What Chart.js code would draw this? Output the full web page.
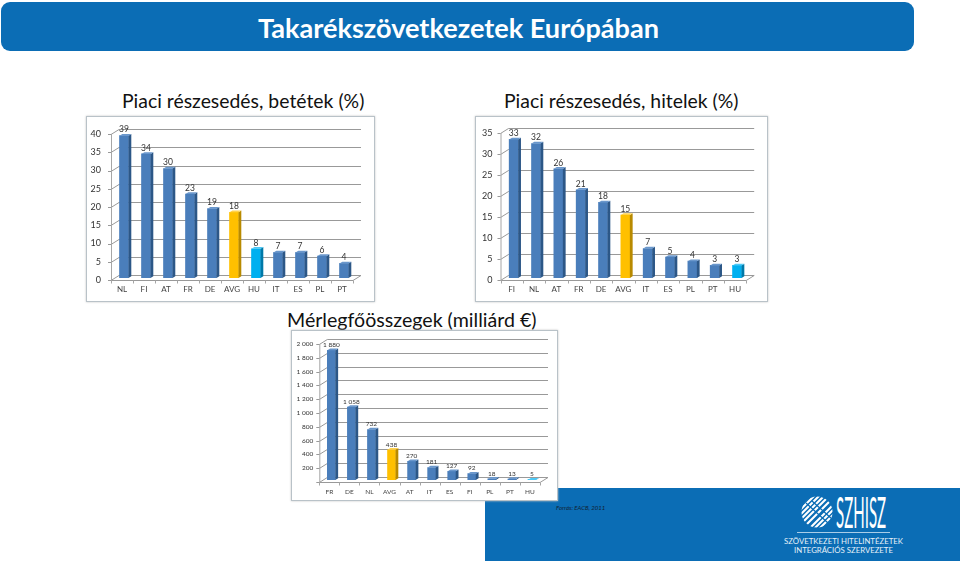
<!DOCTYPE html>
<html lang="hu"><head><meta charset="utf-8">
<script src="https://cdn.jsdelivr.net/npm/chart.js@4"></script>
<style>
html,body{margin:0;padding:0;background:#fff;width:960px;height:561px;overflow:hidden;font-family:Lato,"Open Sans",sans-serif}
.a{position:absolute;white-space:nowrap}
#head{left:1px;top:2px;width:913px;height:49px;background:#0b6db5;border-radius:9px}
#foot{left:485px;top:488px;width:475px;height:73px;background:#0b6db5}
.box{position:absolute;background:#fff;border:1px solid #b9c2c8;box-shadow:0 0 2px #c4c4c4;box-sizing:border-box}
.box canvas{position:absolute;left:-1px;top:-1px}
</style></head><body>
<div class="a" id="head"></div>
<div class="a" style="left:258px;top:11px;font-size:27.1px;font-weight:700;color:#fff">Takarékszövetkezetek Európában</div>
<div class="a" style="left:122px;top:89px;font-size:19.4px;color:#111">Piaci részesedés, betétek (%)</div>
<div class="a" style="left:504px;top:89px;font-size:19.4px;color:#111">Piaci részesedés, hitelek (%)</div>
<div class="a" style="left:287px;top:308px;font-size:19.6px;color:#111">Mérlegfőösszegek (milliárd €)</div>
<div class="a" id="foot"></div>
<div class="box" style="left:86px;top:116px;width:289px;height:186px"><canvas id="c1"></canvas></div>
<div class="box" style="left:475px;top:116px;width:293px;height:186px"><canvas id="c2"></canvas></div>
<div class="box" style="left:291px;top:330px;width:267px;height:171px"><canvas id="c3"></canvas></div>
<div class="a" style="left:556px;top:504px;font-size:6px;font-style:italic;color:#123">Forrás: EACB, 2011</div>
<svg class="a" style="left:800px;top:495px" width="36" height="36" viewBox="0 0 36 36">
<defs><clipPath id="cp"><circle cx="17" cy="17" r="15.5"/></clipPath></defs>
<g clip-path="url(#cp)" stroke="#fff" stroke-width="2.1">
<path d="M-2 12L12 -2M-2 17L17 -2M-2 22L22 -2M-2 27L27 -2M-2 32L32 -2M2 34L36 0M7 36L36 7M12 36L36 12M17 36L36 17M22 36L36 22"/>
</g>
<g clip-path="url(#cp)" stroke="#0b6db5" stroke-width="1.3"><path d="M6 8L28 28M12 6L32 24"/></g>
</svg>
<div class="a" style="left:836px;top:486px;font-size:32px;color:#fff;transform-origin:0 0;transform:scale(.47,1.32);font-weight:400">SZHISZ</div>
<div class="a" style="left:797px;top:532px;width:93px;height:1px;background:#a9cde8"></div>
<div class="a" style="left:774px;top:537px;width:139px;text-align:center;font-size:7.8px;line-height:8.5px;color:#e6f1f9">SZÖVETKEZETI HITELINTÉZETEK<br>INTEGRÁCIÓS SZERVEZETE</div>
<script>
const depositCategories=["NL","FI","AT","FR","DE","AVG","HU","IT","ES","PL","PT"];
const depositValues=[39,34,30,23,19,18,8,7,7,6,4];
const depositTicks=[0,5,10,15,20,25,30,35,40];
const loanCategories=["FI","NL","AT","FR","DE","AVG","IT","ES","PL","PT","HU"];
const loanValues=[33,32,26,21,18,15,7,5,4,3,3];
const loanTicks=[0,5,10,15,20,25,30,35];
const assetCategories=["FR","DE","NL","AVG","AT","IT","ES","FI","PL","PT","HU"];
const assetValues=[1880,1058,732,438,270,181,127,92,18,13,5];
const assetTicks=[0,200,400,600,800,1000,1200,1400,1600,1800,2000];
const FONT='Lato, "Open Sans", sans-serif';
const colorSets={normal:["#4a7ebb","#2c5787","#6a97cc"],AVG:["#ffc000","#b88a00","#ffd24d"],HU:["#00b0f0","#0079a8","#4dc8f5"]};
const setOf=l=>colorSets[l]||colorSets.normal;
const fmt=v=>String(v).replace(/\B(?=(\d{3})+$)/g," ");
const grid3d={id:"grid3d",
 beforeDatasetsDraw(ch,_,o){const c=ch.ctx,{left:L,right:R}=ch.chartArea,y=ch.scales.y,x=ch.scales.x;
  c.save();c.lineWidth=1;
  y.ticks.forEach(t=>{const p=Math.round(y.getPixelForValue(t.value))+.5;
   c.strokeStyle="#999";
   c.beginPath();c.moveTo(L,p);c.lineTo(L+o.dx,p-o.dy);c.lineTo(R+o.dx,p-o.dy);
   if(t.value===0){c.lineTo(R,p);c.lineTo(L,p);}c.stroke();
   c.beginPath();c.moveTo(L-3,p);c.lineTo(L,p);c.stroke();});
  const a=y.getPixelForValue(y.max),b=Math.round(y.getPixelForValue(0))+.5;
  c.strokeStyle="#a6a6a6";c.beginPath();c.moveTo(L+.5,a);c.lineTo(L+.5,b);c.stroke();
  const n=ch.data.labels.length;
  for(let i=0;i<=n;i++){const q=Math.round(L+(R-L)*i/n)+.5;c.beginPath();c.moveTo(q,b);c.lineTo(q,b+3);c.stroke();}
  c.restore();
  c.save();c.translate(o.sx,-o.sy);
 },
 afterDatasetsDraw(ch,_,o){const c=ch.ctx,m=ch.getDatasetMeta(0),d=ch.data,k=o.k,ex=o.dx*k,ey=o.dy*k;
  m.data.forEach((b,i)=>{const r=b.x+b.width/2,l=b.x-b.width/2,s=setOf(d.labels[i]);
   c.fillStyle=s[1];c.beginPath();c.moveTo(r,b.y);c.lineTo(r+ex,b.y-ey);c.lineTo(r+ex,b.base-ey);c.lineTo(r,b.base);c.fill();
   c.fillStyle=s[2];c.beginPath();c.moveTo(l,b.y);c.lineTo(l+ex,b.y-ey);c.lineTo(r+ex,b.y-ey);c.lineTo(r,b.y);c.fill();
   c.fillStyle="#333";c.font=o.label+"px "+FONT;c.textAlign="center";c.textBaseline="alphabetic";
   c.fillText(fmt(d.datasets[0].data[i]),b.x,b.y-ey-o.gap);
  });
  c.restore();
 }};
function make(id,w,h,L,R,T,B,labels,vals,ticks,opt){
 const cv=document.getElementById(id);cv.width=w;cv.height=h;cv.style.width=w+"px";cv.style.height=h+"px";
 new Chart(cv,{type:"bar",plugins:[grid3d],
  data:{labels,datasets:[{data:vals,backgroundColor:labels.map(l=>setOf(l)[0]),barThickness:opt.bar,borderWidth:0}]},
  options:{responsive:false,animation:false,events:[],
   layout:{padding:{left:0,top:T,right:w-R,bottom:0}},
   plugins:{legend:{display:false},tooltip:{enabled:false},title:{display:false},grid3d:opt},
   scales:{
    x:{afterFit(s){s.height=h-B},grid:{display:false,drawTicks:false},border:{display:false},
       ticks:{color:"#444",font:{family:FONT,size:opt.xf},padding:opt.xp,maxRotation:0,autoSkip:false}},
    y:{min:0,max:ticks[ticks.length-1],afterFit(s){s.width=L},grid:{display:false,drawTicks:false},border:{display:false},
       afterBuildTicks(s){s.ticks=ticks.map(v=>({value:v}))},
       ticks:{color:"#333",font:{family:FONT,size:opt.yf},padding:opt.yp,autoSkip:false,
        callback:v=>opt.noZero&&v===0?"":fmt(v)}}
   }}});
}
make("c1",289,186,25,267,18,164,depositCategories,depositValues,depositTicks,{dx:8,dy:5,k:.35,sx:2,sy:2,bar:9,xf:8,yf:9,xp:5,yp:10,label:8.5,gap:1.5});
make("c2",293,186,25.5,271.2,17,164,loanCategories,loanValues,loanTicks,{dx:8,dy:5,k:.35,sx:2,sy:2,bar:9,xf:8,yf:9,xp:5,yp:8,label:8.5,gap:1.5});
make("c3",267,171,28.3,249,14,152,assetCategories,assetValues,assetTicks,{dx:8,dy:5,k:.35,sx:2,sy:2,bar:8,xf:6.5,yf:6.5,xp:6,yp:6,label:6.5,gap:1.5,noZero:true});
</script>
</body></html>
